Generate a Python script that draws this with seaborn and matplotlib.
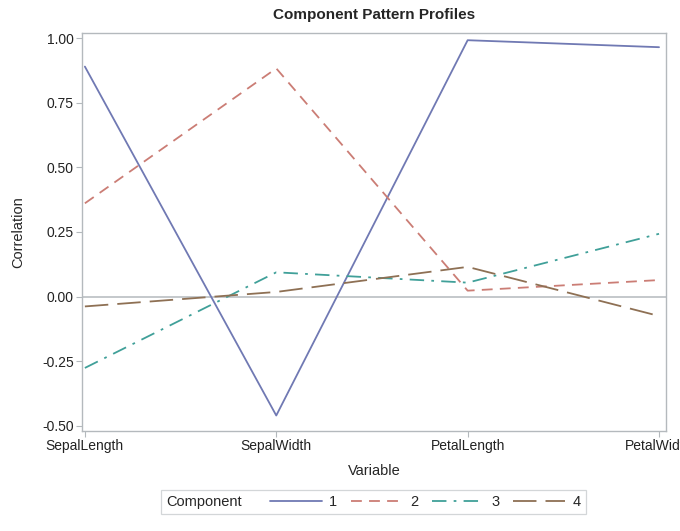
import pandas as pd
import matplotlib.pyplot as plt
import seaborn as sns
from matplotlib.offsetbox import HPacker

# Component pattern data
variables = ["SepalLength", "SepalWidth", "PetalLength", "PetalWidth"]
comp1 = [0.890, -0.460, 0.992, 0.965]
comp2 = [0.361, 0.883, 0.023, 0.064]
comp3 = [-0.276, 0.094, 0.054, 0.243]
comp4 = [-0.038, 0.018, 0.115, -0.075]
components = ["1", "2", "3", "4"]

rows = []
for comp, vals in zip(components, [comp1, comp2, comp3, comp4]):
    for var, v in zip(variables, vals):
        rows.append({"Variable": var, "Correlation": v, "Component": comp})
df = pd.DataFrame(rows)

sns.set_theme(style="white")
plt.rcParams["font.family"] = ["Liberation Sans", "DejaVu Sans"]

colors = ["#7079B3", "#CB7D75", "#40A099", "#8E7054"]
dashes = ["", (6, 4), (8, 4, 1.5, 4), (13, 5)]

fig = plt.figure(figsize=(6.8, 5.31), dpi=100)
ax = fig.add_axes([0.1206, 0.1883, 0.8584, 0.7496])

ax.axhline(0, color="#B4B9BD", lw=1.1, zorder=0)
sns.lineplot(
    data=df,
    x="Variable",
    y="Correlation",
    hue="Component",
    style="Component",
    palette=colors,
    dashes=dashes,
    linewidth=1.3,
    ax=ax,
    legend=True,
)

ax.set_xlim(-0.015, 3.035)
ax.set_ylim(-0.52, 1.02)
ax.set_yticks([-0.5, -0.25, 0, 0.25, 0.5, 0.75, 1.0])
ax.set_yticklabels(["-0.50", "-0.25", "0.00", "0.25", "0.50", "0.75", "1.00"])
for sp in ax.spines.values():
    sp.set_color("#B4B9BD")
    sp.set_linewidth(1.0)
ax.tick_params(axis="both", which="both", length=4, width=0.8, color="#B4B9BD",
               labelsize=10, labelcolor="#222222", pad=2, left=True, bottom=True)

ax.set_title("Component Pattern Profiles", fontsize=11, fontweight="bold", pad=10)
ax.set_xlabel("Variable", fontsize=10.5, labelpad=8)
ax.set_ylabel("Correlation", fontsize=10.5, labelpad=12)

handles, labels = ax.get_legend_handles_labels()
ax.get_legend().remove()
leg = fig.legend(handles, labels, loc="center", bbox_to_anchor=(0.549, 0.0546),
                 ncol=4, title="Component", fontsize=10.5, title_fontsize=10.5,
                 frameon=True, fancybox=False, handlelength=3.6, handletextpad=0.5,
                 columnspacing=0.9, borderpad=0.35)
leg.get_frame().set_edgecolor("#C8CCCF")
leg.get_frame().set_linewidth(0.9)
# put the legend title inline, to the left of the entries
leg._legend_box.__class__ = HPacker
leg._legend_box.align = "center"
leg._legend_box.sep = 20

fig.savefig("out.png", dpi=100)
